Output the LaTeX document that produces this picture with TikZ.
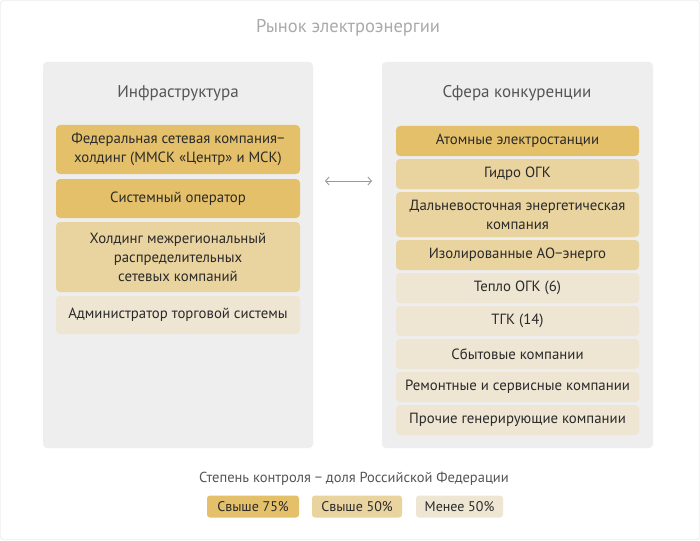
\documentclass[tikz,border=0pt]{standalone}
\usepackage{fontspec}
\setmainfont{PT Sans}
\usetikzlibrary{arrows.meta}
\definecolor{cdark}{HTML}{E5C06A}
\definecolor{cmid}{HTML}{E9D39E}
\definecolor{clight}{HTML}{EEE5D3}
\definecolor{cpanel}{HTML}{EEEEEE}
\definecolor{cborder}{HTML}{DDDDDD}
\definecolor{ctext}{HTML}{2A2A2A}
\definecolor{chead}{HTML}{555555}
\definecolor{ctitle}{HTML}{AAAAAA}
\definecolor{carrow}{HTML}{999999}
\begin{document}
\begin{tikzpicture}[x=1pt,y=-1pt,
  panel/.style={fill=cpanel,draw=none,rounded corners=4pt},
  box/.style={rounded corners=4pt,draw=none,inner sep=0pt,align=center,text=ctext,font=\fontsize{14.8}{19}\selectfont},
  lbox/.style={box,minimum width=244pt},
  rbox/.style={box,minimum width=243pt},
  legbox/.style={rounded corners=3pt,draw=none,inner sep=0pt,text=ctext,font=\fontsize{14}{16}\selectfont,minimum height=22pt},
  heading/.style={text=chead,font=\fontsize{17}{19}\selectfont,inner sep=0pt},
  link/.style={draw=carrow,line width=0.9pt,{Straight Barb[length=3.5pt,width=8pt]}-{Straight Barb[length=3.5pt,width=8pt]}}
]
\useasboundingbox (0,0) rectangle (700,540);
\draw[cborder,rounded corners=3pt,fill=white] (0.5,0.5) rectangle (699.5,539.5);
\node[text=ctitle,font=\fontsize{18.5}{20}\selectfont,inner sep=0pt] (title) at (348,28) {Рынок электроэнергии};
% panels
\fill[panel] (43,62) rectangle (313,448);
\fill[panel] (382,62) rectangle (653,448);
\node[heading] (hl) at (178,93) {Инфраструктура};
\node[heading] (hr) at (517,93) {Сфера конкуренции};
% left boxes
\node[lbox,fill=cdark,minimum height=49pt] (l1) at (178,149.5) {Федеральная сетевая компания−\\холдинг (ММСК «Центр» и МСК)};
\node[lbox,fill=cdark,minimum height=39pt] (l2) at (178,198.5) {Системный оператор};
\node[lbox,fill=cmid,minimum height=70pt] (l3) at (178,257) {Холдинг межрегиональный\\распределительных\\сетевых компаний};
\node[lbox,fill=clight,minimum height=38pt] (l4) at (178,315) {Администратор торговой системы};
% right boxes
\node[rbox,fill=cdark,minimum height=30pt] (r1) at (517.5,141) {Атомные электростанции};
\node[rbox,fill=cmid,minimum height=30pt] (r2) at (517.5,174) {Гидро ОГК};
\node[rbox,fill=cmid,minimum height=45pt] (r3) at (517.5,214.5) {Дальневосточная энергетическая\\компания};
\node[rbox,fill=cmid,minimum height=30pt] (r4) at (517.5,255) {Изолированные АО−энерго};
\node[rbox,fill=clight,minimum height=30pt] (r5) at (517.5,288) {Тепло ОГК (6)};
\node[rbox,fill=clight,minimum height=30pt] (r6) at (517.5,321) {ТГК (14)};
\node[rbox,fill=clight,minimum height=30pt] (r7) at (517.5,354) {Сбытовые компании};
\node[rbox,fill=clight,minimum height=30pt] (r8) at (517.5,387) {Ремонтные и сервисные компании};
\node[rbox,fill=clight,minimum height=30pt] (r9) at (517.5,420) {Прочие генерирующие компании};
% arrow
\coordinate (al) at (325,181);
\coordinate (ar) at (372,181);
\draw[link] (al) -- (ar);
% legend
\node[text=chead,font=\fontsize{14.5}{16}\selectfont,inner sep=0pt] (legt) at (354,479) {Степень контроля − доля Российской Федерации};
\node[legbox,fill=cdark,minimum width=92pt] (g1) at (253,506.5) {Свыше 75\%};
\node[legbox,fill=cmid,minimum width=90pt] (g2) at (357,506.5) {Свыше 50\%};
\node[legbox,fill=clight,minimum width=87pt] (g3) at (459.5,506.5) {Менее 50\%};
\end{tikzpicture}
\end{document}
